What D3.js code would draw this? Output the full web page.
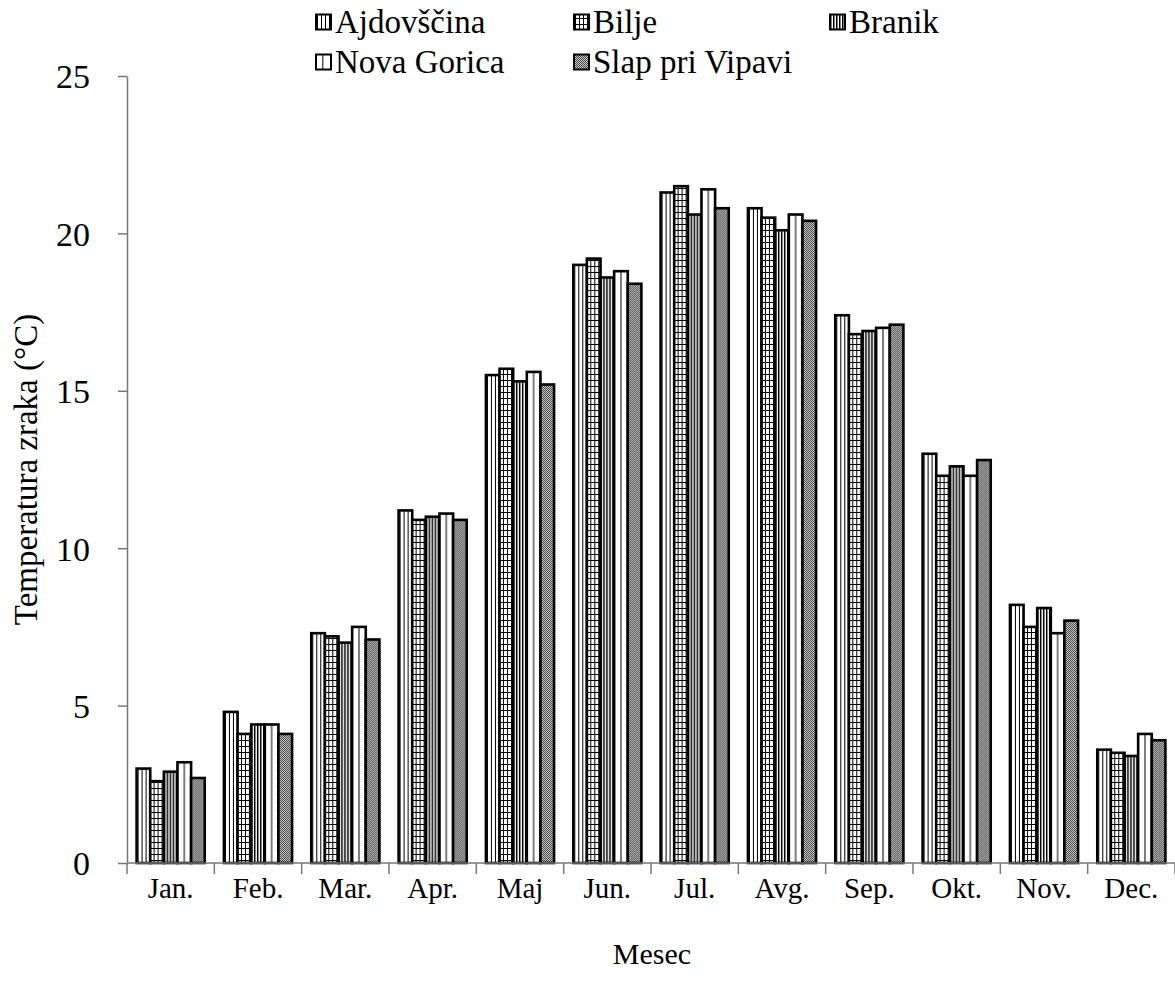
<!DOCTYPE html>
<html>
<head>
<meta charset="utf-8">
<script src="https://cdn.jsdelivr.net/npm/d3@7"></script>
<style>
  html, body { margin: 0; padding: 0; background: #fff; }
  svg text { font-family: "Liberation Serif", "Times New Roman", serif !important; fill: #000; }
</style>
</head>
<body>
<svg id="chart" width="1175" height="983"></svg>
<script>
const months = ["Jan.", "Feb.", "Mar.", "Apr.", "Maj", "Jun.", "Jul.", "Avg.", "Sep.", "Okt.", "Nov.", "Dec."];
const stations = ["Ajdovščina", "Bilje", "Branik", "Nova Gorica", "Slap pri Vipavi"];
const ajdovscina = [3.0, 4.8, 7.3, 11.2, 15.5, 19.0, 21.3, 20.8, 17.4, 13.0, 8.2, 3.6];
const bilje      = [2.6, 4.1, 7.2, 10.9, 15.7, 19.2, 21.5, 20.5, 16.8, 12.3, 7.5, 3.5];
const branik     = [2.9, 4.4, 7.0, 11.0, 15.3, 18.6, 20.6, 20.1, 16.9, 12.6, 8.1, 3.4];
const novaGorica = [3.2, 4.4, 7.5, 11.1, 15.6, 18.8, 21.4, 20.6, 17.0, 12.3, 7.3, 4.1];
const slap       = [2.7, 4.1, 7.1, 10.9, 15.2, 18.4, 20.8, 20.4, 17.1, 12.8, 7.7, 3.9];
const yTicks = [0, 5, 10, 15, 20, 25];
const yTitle = "Temperatura zraka (°C)";
const xTitle = "Mesec";

const seriesValues = [ajdovscina, bilje, branik, novaGorica, slap];
const data = months.map((m, i) => ({ month: m, values: stations.map((s, j) => ({ station: s, value: seriesValues[j][i] })) }));

const FONT = '"Liberation Serif", "Times New Roman", serif';
const svg = d3.select("#chart");
const mLeft = 127, mRight = 1175, mTop = 76, mBottom = 863;

// patterns
const defs = svg.append("defs");
let p = defs.append("pattern").attr("id", "p0").attr("patternUnits", "userSpaceOnUse").attr("width", 4).attr("height", 4);
p.append("rect").attr("width", 4).attr("height", 4).attr("fill", "#fff");
p.append("rect").attr("x", 1).attr("width", 1).attr("height", 4).attr("fill", "#000");
p = defs.append("pattern").attr("id", "p1").attr("patternUnits", "userSpaceOnUse").attr("width", 4).attr("height", 6);
p.append("rect").attr("width", 4).attr("height", 6).attr("fill", "#fff");
p.append("rect").attr("x", 1).attr("width", 1).attr("height", 6).attr("fill", "#000");
p.append("rect").attr("y", 2).attr("width", 4).attr("height", 1).attr("fill", "#000");
p = defs.append("pattern").attr("id", "p2").attr("patternUnits", "userSpaceOnUse").attr("width", 3).attr("height", 3);
p.append("rect").attr("width", 3).attr("height", 3).attr("fill", "#fff");
p.append("rect").attr("x", 0).attr("width", 1.5).attr("height", 3).attr("fill", "#000");
p = defs.append("pattern").attr("id", "p4").attr("patternUnits", "userSpaceOnUse").attr("width", 2).attr("height", 2);
p.append("rect").attr("width", 2).attr("height", 2).attr("fill", "#d0d0d0");
p.append("rect").attr("width", 1).attr("height", 1).attr("fill", "#404040");
p.append("rect").attr("x", 1).attr("y", 1).attr("width", 1).attr("height", 1).attr("fill", "#404040");

const x0 = d3.scaleBand().domain(months).range([mLeft, mRight]).paddingInner(0.22).paddingOuter(0.11);
const x1 = d3.scaleBand().domain(stations).range([0, x0.bandwidth()]);
const y = d3.scaleLinear().domain([0, 25]).range([mBottom, mTop]);
const bw = x1.bandwidth();

p = defs.append("pattern").attr("id", "p3").attr("patternUnits", "objectBoundingBox").attr("width", 1).attr("height", 1);
p.append("rect").attr("width", bw).attr("height", 1000).attr("fill", "#fff");
p.append("rect").attr("x", bw / 2 - 0.5).attr("width", 1).attr("height", 1000).attr("fill", "#000");

const fills = { "Ajdovščina": "url(#p0)", "Bilje": "url(#p1)", "Branik": "url(#p2)", "Nova Gorica": "url(#p3)", "Slap pri Vipavi": "url(#p4)" };

const groups = svg.append("g").selectAll("g").data(data).join("g")
  .attr("transform", d => `translate(${x0(d.month)},0)`);
groups.selectAll("rect").data(d => d.values).join("rect")
  .attr("x", d => x1(d.station))
  .attr("y", d => y(d.value))
  .attr("width", bw)
  .attr("height", d => y(0) - y(d.value))
  .attr("fill", d => fills[d.station])
  .attr("stroke", "#000")
  .attr("stroke-width", 2.6);

const yAxis = svg.append("g").attr("transform", `translate(${mLeft},0)`)
  .call(d3.axisLeft(y).tickValues(yTicks).tickSize(9).tickPadding(28).tickSizeOuter(0));
yAxis.attr("font-family", null).attr("font-size", null);
yAxis.select(".domain").attr("stroke", "#777").attr("stroke-width", 1.5);
yAxis.selectAll(".tick line").attr("stroke", "#777").attr("stroke-width", 1.5);
yAxis.selectAll(".tick text").style("font-size", "34px").style("font-family", FONT).attr("dy", "0.35em");

const xTickScale = d3.scaleLinear().domain([0, months.length]).range([mLeft, mRight]);
const xAxis = svg.append("g").attr("transform", `translate(0,${mBottom})`);
xAxis.append("line").attr("x1", mLeft).attr("x2", mRight).attr("stroke", "#777").attr("stroke-width", 1.5);
xAxis.selectAll("line.t").data(d3.range(months.length + 1)).join("line").attr("class", "t")
  .attr("x1", d => xTickScale(d)).attr("x2", d => xTickScale(d)).attr("y1", 0).attr("y2", 11)
  .attr("stroke", "#777").attr("stroke-width", 1.5);
xAxis.selectAll("text").data(months).join("text")
  .attr("x", d => x0(d) + x0.bandwidth() / 2).attr("y", 35)
  .attr("text-anchor", "middle").style("font-family", FONT).style("font-size", "29px").text(d => d);

svg.append("text").attr("x", 652).attr("y", 964).attr("text-anchor", "middle")
  .style("font-family", FONT).style("font-size", "30px").text(xTitle);
svg.append("text").attr("transform", `translate(37,${(mTop + mBottom) / 2}) rotate(-90)`).attr("text-anchor", "middle")
  .style("font-family", FONT).style("font-size", "33px").text(yTitle);

const legendPos = [[316, 22], [574, 22], [830, 22], [316, 62], [574, 62]];
const lg = svg.append("g").selectAll("g").data(stations).join("g")
  .attr("transform", (d, i) => `translate(${legendPos[i][0]},${legendPos[i][1]})`);
lg.append("rect").attr("x", 0).attr("y", -7.5).attr("width", 15).attr("height", 15)
  .attr("fill", d => fills[d]).attr("stroke", "#000").attr("stroke-width", 2);
lg.append("text").attr("x", 19).attr("y", 11).style("font-family", FONT).style("font-size", "33px").text(d => d);
</script>
</body>
</html>
